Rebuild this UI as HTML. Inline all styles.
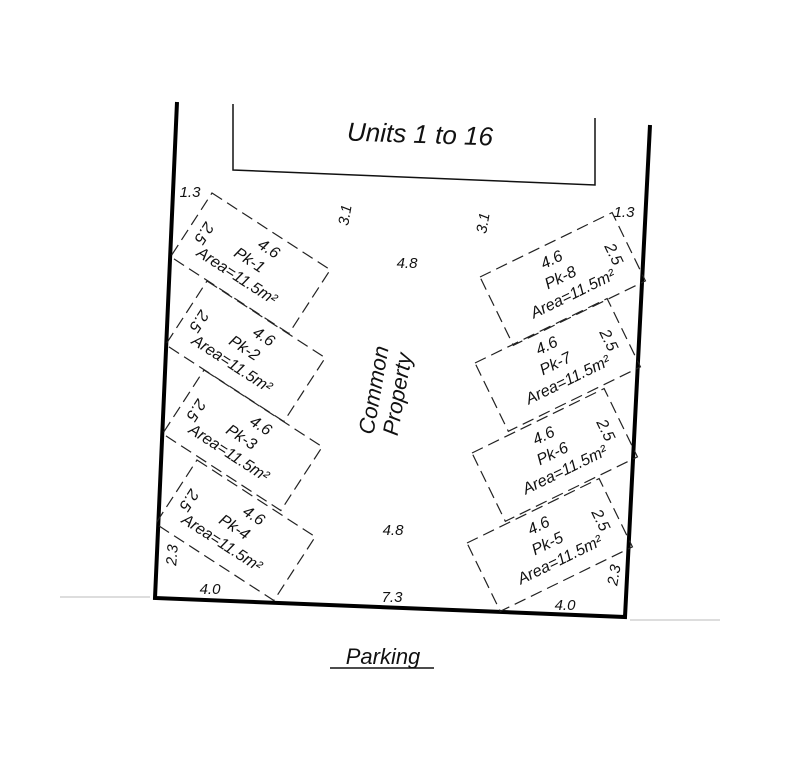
<!DOCTYPE html>
<html><head><meta charset="utf-8"><style>
html,body{margin:0;padding:0;background:#fff;}
svg text{font-family:"Liberation Sans",sans-serif;font-style:italic;fill:#111;}
</style></head><body>
<svg width="795" height="768" viewBox="0 0 795 768" xmlns="http://www.w3.org/2000/svg">
<rect width="795" height="768" fill="#fff"/>
<polyline points="177,102 155,598 625,617 650,125" fill="none" stroke="#000" stroke-width="4"/>
<polyline points="233,104 233,170 595,185 595,118" fill="none" stroke="#111" stroke-width="1.5"/>
<text x="420" y="143" font-size="26" text-anchor="middle" transform="rotate(2 420 135)">Units 1 to 16</text>
<text x="407" y="268" font-size="15" text-anchor="middle">4.8</text>
<text x="393" y="535" font-size="15" text-anchor="middle">4.8</text>
<text x="392" y="602" font-size="15" text-anchor="middle">7.3</text>
<text x="345" y="220" font-size="15" text-anchor="middle" transform="rotate(-80 345 215)">3.1</text>
<text x="483" y="228" font-size="15" text-anchor="middle" transform="rotate(-80 483 223)">3.1</text>
<g transform="translate(385,392) rotate(-80)">
<text x="0" y="-4" font-size="22" text-anchor="middle">Common</text>
<text x="0" y="20" font-size="22" text-anchor="middle">Property</text>
</g>
<text x="190" y="197" font-size="15" text-anchor="middle">1.3</text>
<text x="624" y="217" font-size="15" text-anchor="middle">1.3</text>
<text x="172" y="560" font-size="15" text-anchor="middle" transform="rotate(-85 172 555)">2.3</text>
<text x="210" y="594" font-size="15" text-anchor="middle">4.0</text>
<text x="565" y="610" font-size="15" text-anchor="middle">4.0</text>
<text x="614" y="580" font-size="15" text-anchor="middle" transform="rotate(-80 614 575)">2.3</text>
<text x="383" y="664" font-size="22" text-anchor="middle">Parking</text>
<line x1="330" y1="668" x2="434" y2="668" stroke="#111" stroke-width="1.5"/>
<line x1="60" y1="597" x2="150" y2="597" stroke="#bbb" stroke-width="1"/>
<line x1="630" y1="620" x2="720" y2="620" stroke="#bbb" stroke-width="1"/>

<defs>
<rect id="LR" x="0" y="0" width="141" height="76" fill="none" stroke="#222" stroke-width="1.2" stroke-dasharray="12,6"/>
<rect id="RR" x="0" y="0" width="147" height="76" fill="none" stroke="#222" stroke-width="1.2" stroke-dasharray="12,6"/>
</defs>
<g font-size="16">
<g transform="translate(212,193) rotate(33)"><use href="#LR"/>
<text x="78" y="21" text-anchor="middle">4.6</text><text x="68" y="41" text-anchor="middle">Pk-1</text><text x="66" y="61" text-anchor="middle">Area=11.5m²</text><text x="16" y="44" text-anchor="middle" transform="rotate(90 16 38)">2.5</text></g>
<g transform="translate(207,281) rotate(33)"><use href="#LR"/>
<text x="78" y="21" text-anchor="middle">4.6</text><text x="68" y="41" text-anchor="middle">Pk-2</text><text x="66" y="61" text-anchor="middle">Area=11.5m²</text><text x="16" y="44" text-anchor="middle" transform="rotate(90 16 38)">2.5</text></g>
<g transform="translate(204,370) rotate(33)"><use href="#LR"/>
<text x="78" y="21" text-anchor="middle">4.6</text><text x="68" y="41" text-anchor="middle">Pk-3</text><text x="66" y="61" text-anchor="middle">Area=11.5m²</text><text x="16" y="44" text-anchor="middle" transform="rotate(90 16 38)">2.5</text></g>
<g transform="translate(197,460) rotate(33)"><use href="#LR"/>
<text x="78" y="21" text-anchor="middle">4.6</text><text x="68" y="41" text-anchor="middle">Pk-4</text><text x="66" y="61" text-anchor="middle">Area=11.5m²</text><text x="16" y="44" text-anchor="middle" transform="rotate(90 16 38)">2.5</text></g>

<g transform="translate(480,277) rotate(-26)"><use href="#RR"/>
<text x="72" y="21" text-anchor="middle">4.6</text><text x="72" y="41" text-anchor="middle">Pk-8</text><text x="76" y="61" text-anchor="middle">Area=11.5m²</text><text x="131" y="44" text-anchor="middle" transform="rotate(90 131 38)">2.5</text></g>
<g transform="translate(475,363) rotate(-26)"><use href="#RR"/>
<text x="72" y="21" text-anchor="middle">4.6</text><text x="72" y="41" text-anchor="middle">Pk-7</text><text x="76" y="61" text-anchor="middle">Area=11.5m²</text><text x="131" y="44" text-anchor="middle" transform="rotate(90 131 38)">2.5</text></g>
<g transform="translate(472,453) rotate(-26)"><use href="#RR"/>
<text x="72" y="21" text-anchor="middle">4.6</text><text x="72" y="41" text-anchor="middle">Pk-6</text><text x="76" y="61" text-anchor="middle">Area=11.5m²</text><text x="131" y="44" text-anchor="middle" transform="rotate(90 131 38)">2.5</text></g>
<g transform="translate(467,543) rotate(-26)"><use href="#RR"/>
<text x="72" y="21" text-anchor="middle">4.6</text><text x="72" y="41" text-anchor="middle">Pk-5</text><text x="76" y="61" text-anchor="middle">Area=11.5m²</text><text x="131" y="44" text-anchor="middle" transform="rotate(90 131 38)">2.5</text></g>
</g>
</svg>
</body></html>
